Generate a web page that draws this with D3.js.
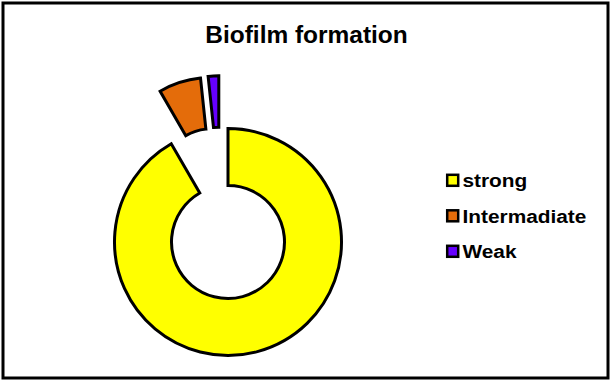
<!DOCTYPE html>
<html>
<head>
<meta charset="utf-8">
<script src="https://cdn.jsdelivr.net/npm/d3@7"></script>
<style>
  html, body { margin: 0; padding: 0; background: #fff; }
  svg { display: block; }
  text { font-family: "Liberation Sans", Arial, sans-serif; font-weight: bold; fill: #000; }
</style>
</head>
<body>
<svg id="chart" width="612" height="383"></svg>
<script>
// ---- data ----
const categories = ["strong", "Intermadiate", "Weak"];
const values = [55, 4, 1];
const colors = ["#FFFF00", "#E46C0A", "#6600FF"];
const title = "Biofilm formation";

// ---- style / layout (not data) ----
const W = 612, H = 383;
const cx = 228, cy = 242;
const outerR = 113.5, innerR = 56.5;
// exploded slice geometry: translation and radius scale
const explode = [
  { dx: 0, dy: 0, k: 1 },
  { dx: -16.8, dy: -62.3, k: 0.9 },
  { dx: -9.2, dy: -64, k: 0.9 }
];

const svg = d3.select("#chart");

// frame
svg.append("rect")
  .attr("x", 3).attr("y", 3)
  .attr("width", 605).attr("height", 375)
  .attr("fill", "#fff").attr("stroke", "#000").attr("stroke-width", 3);

// title
svg.append("text")
  .attr("transform", "translate(306.5,42.5) scale(1.05,1)")
  .attr("text-anchor", "middle")
  .attr("font-size", 23.3)
  .text(title);

// donut
const pie = d3.pie().sort(null).value(d => d)
  .startAngle(0).endAngle(2 * Math.PI);
const arcs = pie(values);

const g = svg.append("g").attr("transform", `translate(${cx},${cy})`);
g.selectAll("path")
  .data(arcs)
  .join("path")
  .attr("transform", (d, i) => `translate(${explode[i].dx},${explode[i].dy})`)
  .attr("d", (d, i) => d3.arc()
      .innerRadius(innerR * explode[i].k)
      .outerRadius(outerR * explode[i].k)(d))
  .attr("fill", (d, i) => colors[i])
  .attr("stroke", "#000")
  .attr("stroke-width", 3)
  .attr("stroke-linejoin", "miter");

// legend
const legendY = d3.scalePoint().domain(categories).range([187, 258]);
const lg = svg.append("g");
const item = lg.selectAll("g.item")
  .data(categories)
  .join("g")
  .attr("class", "item")
  .attr("transform", d => `translate(0,${legendY(d)})`);
item.append("rect")
  .attr("x", 447.2).attr("y", -12.2)
  .attr("width", 11).attr("height", 11)
  .attr("fill", (d, i) => colors[i])
  .attr("stroke", "#000").attr("stroke-width", 2.5);
item.append("text")
  .attr("transform", "translate(462.5,0) scale(1.127,1)")
  .attr("font-size", 18.5)
  .text(d => d);
</script>
</body>
</html>
